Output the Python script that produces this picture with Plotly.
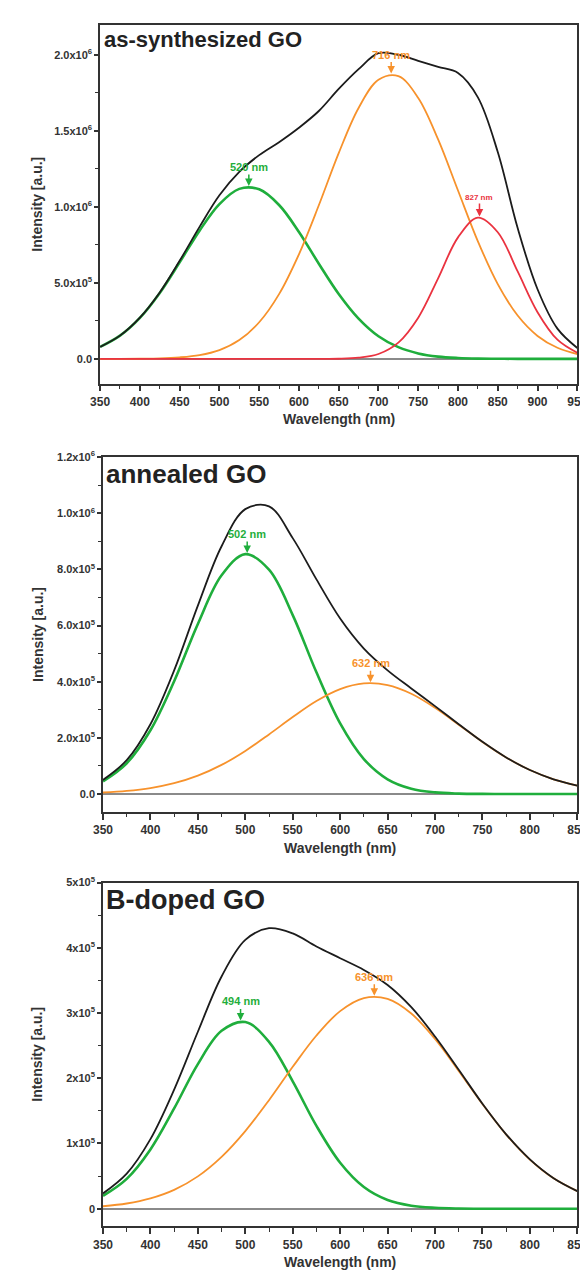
import plotly.graph_objects as go

# ---------------- data ----------------
# Panel 1: as-synthesized GO, intensity in units of 1e6
wl_synth = [350, 375, 400, 425, 450, 475, 500, 525, 550, 575, 600, 625, 650,
            675, 700, 725, 750, 775, 800, 825, 850, 875, 900, 925, 950]
synth_total = [0.079, 0.153, 0.271, 0.437, 0.645, 0.868, 1.076, 1.230, 1.340, 1.425,
               1.520, 1.630, 1.775, 1.905, 2.010, 2.000, 1.960, 1.920, 1.880, 1.720,
               1.360, 0.860, 0.458, 0.199, 0.072]
synth_green = [0.079, 0.153, 0.270, 0.434, 0.635, 0.843, 1.018, 1.118, 1.115, 1.012,
               0.835, 0.626, 0.427, 0.265, 0.149, 0.077, 0.036, 0.015, 0.006, 0.002,
               0.001, 0.0, 0.0, 0.0, 0.0]
synth_orange = [0.0, 0.0, 0.001, 0.003, 0.010, 0.025, 0.058, 0.124, 0.241, 0.426,
                0.688, 1.010, 1.353, 1.650, 1.835, 1.859, 1.716, 1.443, 1.107, 0.773,
                0.492, 0.285, 0.151, 0.073, 0.032]
synth_red = [0.0, 0.0, 0.0, 0.0, 0.0, 0.0, 0.0, 0.0, 0.0, 0.0,
             0.0, 0.0, 0.001, 0.008, 0.032, 0.107, 0.271, 0.530, 0.799, 0.929,
             0.833, 0.575, 0.307, 0.126, 0.040]

# Panel 2: annealed GO, intensity in units of 1e5
wl_ann = [350, 375, 400, 425, 450, 475, 500, 525, 550, 575, 600, 625, 650,
          675, 700, 725, 750, 775, 800, 825, 850]
ann_total = [0.503, 1.205, 2.484, 4.403, 6.713, 8.828, 10.15, 10.25, 9.117, 7.647,
             6.252, 5.183, 4.406, 3.762, 3.132, 2.486, 1.859, 1.303, 0.854, 0.524, 0.300]
ann_green = [0.450, 1.095, 2.271, 4.017, 6.058, 7.791, 8.546, 7.993, 6.375, 4.335,
             2.515, 1.244, 0.525, 0.189, 0.058, 0.015, 0.003, 0.0, 0.0, 0.0, 0.0]
ann_orange = [0.053, 0.110, 0.213, 0.386, 0.655, 1.037, 1.535, 2.123, 2.742, 3.312,
              3.737, 3.939, 3.881, 3.573, 3.074, 2.471, 1.856, 1.303, 0.854, 0.524, 0.300]

# Panel 3: B-doped GO, intensity in units of 1e5
wl_bdop = [350, 375, 400, 425, 450, 475, 500, 525, 550, 575, 600, 625, 650,
           675, 700, 725, 750, 775, 800, 825, 850]
bdop_total = [0.235, 0.538, 1.067, 1.826, 2.713, 3.560, 4.120, 4.300, 4.220, 4.020,
              3.840, 3.660, 3.430, 3.090, 2.640, 2.130, 1.610, 1.140, 0.756, 0.468, 0.270]
bdop_green = [0.197, 0.458, 0.909, 1.537, 2.217, 2.727, 2.861, 2.559, 1.952, 1.270,
              0.705, 0.333, 0.134, 0.046, 0.014, 0.003, 0.0, 0.0, 0.0, 0.0, 0.0]
bdop_orange = [0.038, 0.080, 0.158, 0.289, 0.496, 0.795, 1.190, 1.664, 2.175, 2.655,
               3.029, 3.229, 3.216, 2.992, 2.602, 2.113, 1.604, 1.137, 0.754, 0.467, 0.270]

# Peak labels: (wavelength position, peak height, label, colour)
synth_peaks = [(537, 1.13, "520 nm", "green"), (716, 1.87, "716 nm", "orange"),
               (827, 0.93, "827 nm", "red")]
ann_peaks = [(502, 8.55, "502 nm", "green"), (632, 3.95, "632 nm", "orange")]
bdop_peaks = [(495, 2.87, "494 nm", "green"), (636, 3.25, "636 nm", "orange")]

panel_titles = ["as-synthesized GO", "annealed GO", "B-doped GO"]

synth_ticks = [0, 0.5, 1.0, 1.5, 2.0]
synth_ticktext = ["0.0", "5.0x10<sup>5</sup>", "1.0x10<sup>6</sup>",
                  "1.5x10<sup>6</sup>", "2.0x10<sup>6</sup>"]
ann_ticks = [0, 2, 4, 6, 8, 10, 12]
ann_ticktext = ["0.0", "2.0x10<sup>5</sup>", "4.0x10<sup>5</sup>", "6.0x10<sup>5</sup>",
                "8.0x10<sup>5</sup>", "1.0x10<sup>6</sup>", "1.2x10<sup>6</sup>"]
bdop_ticks = [0, 1, 2, 3, 4, 5]
bdop_ticktext = ["0", "1x10<sup>5</sup>", "2x10<sup>5</sup>", "3x10<sup>5</sup>",
                 "4x10<sup>5</sup>", "5x10<sup>5</sup>"]

# ---------------- styling ----------------
COL = {"black": "#1c1c1c", "green": "#1fae3c", "orange": "#f7922c", "red": "#ea3340"}
W, H = 588, 1273
FONT = "Liberation Sans, Arial, sans-serif"
AX = "#333333"

def ypaper(px):
    return 1 - px / H

panels = [
    dict(wl=wl_synth, total=synth_total,
         comps=[(synth_green, "green", 2.6), (synth_orange, "orange", 1.8), (synth_red, "red", 1.8)],
         peaks=synth_peaks, yr=[-0.163, 2.196], yt=synth_ticks, ytt=synth_ticktext,
         yminor=[0.25, 0.75, 1.25, 1.75], xr=[350, 950],
         xd=[85 / W, 579 / W], yd=[ypaper(370), ypaper(9)], tsize=22),
    dict(wl=wl_ann, total=ann_total,
         comps=[(ann_green, "green", 2.6), (ann_orange, "orange", 1.8)],
         peaks=ann_peaks, yr=[-0.64, 12], yt=ann_ticks, ytt=ann_ticktext,
         yminor=[1, 3, 5, 7, 9, 11], xr=[350, 850],
         xd=[88 / W, 579 / W], yd=[ypaper(801), ypaper(444)], tsize=26),
    dict(wl=wl_bdop, total=bdop_total,
         comps=[(bdop_green, "green", 2.6), (bdop_orange, "orange", 1.8)],
         peaks=bdop_peaks, yr=[-0.27, 5], yt=bdop_ticks, ytt=bdop_ticktext,
         yminor=[0.5, 1.5, 2.5, 3.5, 4.5], xr=[350, 850],
         xd=[88 / W, 579 / W], yd=[ypaper(1218), ypaper(872)], tsize=27),
]

fig = go.Figure()
annotations = []
layout = {}

for i, p in enumerate(panels):
    n = "" if i == 0 else str(i + 1)
    xa, ya = "x" + n, "y" + n
    for comp, c, lw in p["comps"]:
        fig.add_trace(go.Scatter(x=p["wl"], y=comp, mode="lines", xaxis=xa, yaxis=ya,
                                 line=dict(color=COL[c], width=lw, shape="spline", smoothing=1.0),
                                 showlegend=False, hoverinfo="skip"))
    fig.add_trace(go.Scatter(x=p["wl"], y=p["total"], mode="lines", xaxis=xa, yaxis=ya,
                             line=dict(color=COL["black"], width=1.8, shape="spline", smoothing=1.0),
                             showlegend=False, hoverinfo="skip"))
    layout["xaxis" + n] = dict(
        domain=p["xd"], anchor=ya, range=p["xr"], tick0=350, dtick=50,
        showline=True, linecolor=AX, linewidth=1.6, mirror=True,
        ticks="outside", ticklen=6, tickwidth=1.5, tickcolor=AX,
        ticklabeloverflow="allow",
        minor=dict(dtick=25, tick0=350, ticks="outside", ticklen=3.5, tickwidth=1.3, tickcolor=AX),
        showgrid=False, zeroline=False,
        tickfont=dict(family=FONT, size=12, color="#333", weight="bold"))
    layout["yaxis" + n] = dict(
        domain=p["yd"], anchor=xa, range=p["yr"], tickmode="array",
        tickvals=p["yt"], ticktext=p["ytt"],
        showline=True, linecolor=AX, linewidth=1.6, mirror=True,
        ticks="outside", ticklen=4, tickwidth=1.5, tickcolor=AX,
        ticklabeloverflow="allow",
        minor=dict(tickvals=p["yminor"], ticks="outside", ticklen=3, tickwidth=1.3, tickcolor=AX),
        showgrid=False, zeroline=True, zerolinecolor="#8a8a8a", zerolinewidth=1.6,
        tickfont=dict(family=FONT, size=11, color="#333", weight="bold"))
    # panel title
    annotations.append(dict(text="<b>%s</b>" % panel_titles[i], xref=xa + " domain", yref=ya + " domain",
                            x=0.003, y=1.0, xanchor="left", yanchor="top", showarrow=False,
                            font=dict(family=FONT, size=p["tsize"], color="#222")))
    # peak labels
    for (px, py, txt, c) in p["peaks"]:
        fs = 8 if c == "red" else 11
        annotations.append(dict(text="<b>%s</b>" % txt, x=px, y=py, xref=xa, yref=ya,
                                showarrow=True, ax=0, ay=-20, arrowhead=2, arrowsize=1,
                                arrowwidth=1.5, arrowcolor=COL[c], standoff=1,
                                font=dict(family=FONT, size=fs, color=COL[c])))
    # axis titles
    y0, y1 = p["yd"]
    annotations.append(dict(text="<b>Intensity [a.u.]</b>", xref="paper", yref="paper",
                            x=20 / W, y=(y0 + y1) / 2, textangle=-90, showarrow=False,
                            xanchor="center", yanchor="middle",
                            font=dict(family=FONT, size=14, color="#333")))
    x0, x1 = p["xd"]
    annotations.append(dict(text="<b>Wavelength (nm)</b>", xref="paper", yref="paper",
                            x=(x0 + x1) / 2, y=y0 - 36 / H, showarrow=False,
                            xanchor="center", yanchor="middle",
                            font=dict(family=FONT, size=14, color="#333")))

fig.update_layout(**layout)
fig.update_layout(width=W, height=H, margin=dict(l=0, r=0, t=0, b=0),
                  paper_bgcolor="white", plot_bgcolor="white",
                  annotations=annotations, showlegend=False)

fig.write_html("out.html")
